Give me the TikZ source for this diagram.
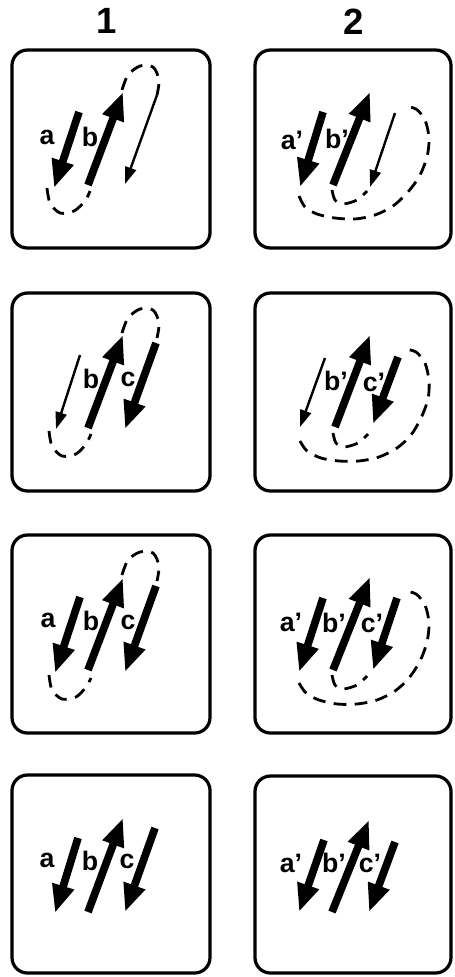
\documentclass[tikz,border=0pt]{standalone}
\usepackage{fontspec}
\setsansfont{Liberation Sans}
\usetikzlibrary{arrows.meta}
\tikzset{
  panel/.style={line width=2.3pt, rounded corners=11pt},
  bigarrow/.style={line width=5.5pt, -{Triangle[length=20pt,width=15pt]}},
  thinarrow/.style={line width=1.7pt, -{Triangle[length=12pt,width=8pt]}},
  loopline/.style={line width=2pt, dash pattern=on 9pt off 6pt, line cap=butt},
  lab/.style={font=\sffamily\bfseries\fontsize{19}{19}\selectfont, inner sep=0pt},
  numlab/.style={font=\sffamily\bfseries\fontsize{26}{26}\selectfont, inner sep=0pt}
}
\begin{document}
\begin{tikzpicture}[x=0.25mm, y=-0.25mm]
\useasboundingbox (0,0) rectangle (454,977);
\node[numlab] (n1) at (107,21) {1};
\node[numlab] (n2) at (354,22) {2};
% ---------- column 1 ----------
% row 1
\begin{scope}[shift={(12,50)}]
  \draw[panel] (0,0) rectangle (198,198);
  \coordinate (at) at (67,62); \coordinate (ah) at (42,138);
  \coordinate (bt) at (76,135); \coordinate (bh) at (111,42);
  \coordinate (tt) at (145,45); \coordinate (th) at (113,134);
  \draw[bigarrow] (at) -- (ah);
  \draw[bigarrow] (bt) -- (bh);
  \draw[thinarrow] (tt) -- (th);
  \node[lab] (la1) at (35,87) {a};
  \node[lab] (lb1) at (78,87) {b};
  \draw[loopline] plot[smooth] coordinates {(35,138) (38,153) (48,163) (62,161) (73,151) (78,141)};
  \draw[loopline] plot[smooth] coordinates {(110,40) (116,25) (128,16) (141,17) (147,30) (145,45)};
\end{scope}
% row 2
\begin{scope}[shift={(12,293)}]
  \draw[panel] (0,0) rectangle (198,198);
  \coordinate (tt) at (68,62); \coordinate (th) at (44,136);
  \coordinate (bt) at (76,135); \coordinate (bh) at (111,42);
  \coordinate (ct) at (144,50); \coordinate (ch) at (113,136);
  \draw[thinarrow] (tt) -- (th);
  \draw[bigarrow] (bt) -- (bh);
  \draw[bigarrow] (ct) -- (ch);
  \node[lab] (lb2) at (79,86) {b};
  \node[lab] (lc2) at (116,86) {c};
  \draw[loopline] plot[smooth] coordinates {(37,138) (40,153) (50,163) (64,161) (74,151) (79,141)};
  \draw[loopline] plot[smooth] coordinates {(110,40) (116,25) (128,16) (141,17) (147,30) (145,45)};
\end{scope}
% row 3
\begin{scope}[shift={(12,535)}]
  \draw[panel] (0,0) rectangle (198,198);
  \coordinate (at) at (68,62); \coordinate (ah) at (43,138);
  \coordinate (bt) at (76,135); \coordinate (bh) at (111,43);
  \coordinate (ct) at (144,51); \coordinate (ch) at (113,137);
  \draw[bigarrow] (at) -- (ah);
  \draw[bigarrow] (bt) -- (bh);
  \draw[bigarrow] (ct) -- (ch);
  \node[lab] (la3) at (36,85) {a};
  \node[lab] (lb3) at (79,86) {b};
  \node[lab] (lc3) at (116,87) {c};
  \draw[loopline] plot[smooth] coordinates {(37,140) (40,155) (50,164) (64,162) (74,152) (79,143)};
  \draw[loopline] plot[smooth] coordinates {(110,40) (116,25) (128,17) (141,18) (147,31) (145,46)};
\end{scope}
% row 4
\begin{scope}[shift={(12,775)}]
  \draw[panel] (0,0) rectangle (198,198);
  \coordinate (at) at (66,63); \coordinate (ah) at (43,138);
  \coordinate (bt) at (76,137); \coordinate (bh) at (111,43);
  \coordinate (ct) at (143,53); \coordinate (ch) at (113,137);
  \draw[bigarrow] (at) -- (ah);
  \draw[bigarrow] (bt) -- (bh);
  \draw[bigarrow] (ct) -- (ch);
  \node[lab] (la4) at (35,85) {a};
  \node[lab] (lb4) at (78,86) {b};
  \node[lab] (lc4) at (115,86) {c};
\end{scope}
% ---------- column 2 ----------
% row 1
\begin{scope}[shift={(255,50)}]
  \draw[panel] (0,0) rectangle (196,198);
  \coordinate (at) at (68,62); \coordinate (ah) at (45,137);
  \coordinate (bt) at (78,135); \coordinate (bh) at (115,42);
  \coordinate (tt) at (140,63); \coordinate (th) at (115,137);
  \draw[bigarrow] (at) -- (ah);
  \draw[bigarrow] (bt) -- (bh);
  \draw[thinarrow] (tt) -- (th);
  \node[lab] (la5) at (37,90) {a'};
  \node[lab] (lb5) at (82,89) {b'};
  \draw[loopline] plot[smooth] coordinates {(44,146) (50,157) (62,164) (80,168) (100,169) (120,165) (138,156) (152,143) (164,127) (172,107) (174,88) (170,70) (161,59) (149,56)};
  \draw[loopline] plot[smooth] coordinates {(77,140) (80,150) (88,154) (102,150) (112,141)};
\end{scope}
% row 2
\begin{scope}[shift={(255,293)}]
  \draw[panel] (0,0) rectangle (196,198);
  \coordinate (tt) at (70,65); \coordinate (th) at (45,134);
  \coordinate (bt) at (80,134); \coordinate (bh) at (115,42);
  \coordinate (ct) at (143,64); \coordinate (ch) at (118,131);
  \draw[thinarrow] (tt) -- (th);
  \draw[bigarrow] (bt) -- (bh);
  \draw[bigarrow] (ct) -- (ch);
  \node[lab] (lb6) at (81,88) {b'};
  \node[lab] (lc6) at (119,89) {c'};
  \draw[loopline] plot[smooth] coordinates {(45,148) (52,158) (66,165) (84,168) (104,168) (124,164) (142,155) (156,142) (166,125) (173,106) (174,88) (170,70) (161,59) (150,56)};
  \draw[loopline] plot[smooth] coordinates {(78,140) (81,150) (89,154) (103,150) (113,141)};
\end{scope}
% row 3
\begin{scope}[shift={(255,535)}]
  \draw[panel] (0,0) rectangle (196,198);
  \coordinate (at) at (68,63); \coordinate (ah) at (44,137);
  \coordinate (bt) at (78,135); \coordinate (bh) at (115,42);
  \coordinate (ct) at (142,63); \coordinate (ch) at (118,135);
  \draw[bigarrow] (at) -- (ah);
  \draw[bigarrow] (bt) -- (bh);
  \draw[bigarrow] (ct) -- (ch);
  \node[lab] (la7) at (36,87) {a'};
  \node[lab] (lb7) at (79,88) {b'};
  \node[lab] (lc7) at (117,88) {c'};
  \draw[loopline] plot[smooth] coordinates {(44,148) (51,158) (64,165) (82,169) (102,169) (122,165) (140,156) (154,143) (165,126) (172,107) (174,88) (170,70) (161,59) (150,56)};
  \draw[loopline] plot[smooth] coordinates {(77,140) (80,150) (88,154) (102,150) (112,141)};
\end{scope}
% row 4
\begin{scope}[shift={(255,776)}]
  \draw[panel] (0,0) rectangle (196,197);
  \coordinate (at) at (69,64); \coordinate (ah) at (44,136);
  \coordinate (bt) at (77,136); \coordinate (bh) at (114,44);
  \coordinate (ct) at (140,66); \coordinate (ch) at (114,136);
  \draw[bigarrow] (at) -- (ah);
  \draw[bigarrow] (bt) -- (bh);
  \draw[bigarrow] (ct) -- (ch);
  \node[lab] (la8) at (36,87) {a'};
  \node[lab] (lb8) at (79,87) {b'};
  \node[lab] (lc8) at (115,87) {c'};
\end{scope}
\end{tikzpicture}
\end{document}
